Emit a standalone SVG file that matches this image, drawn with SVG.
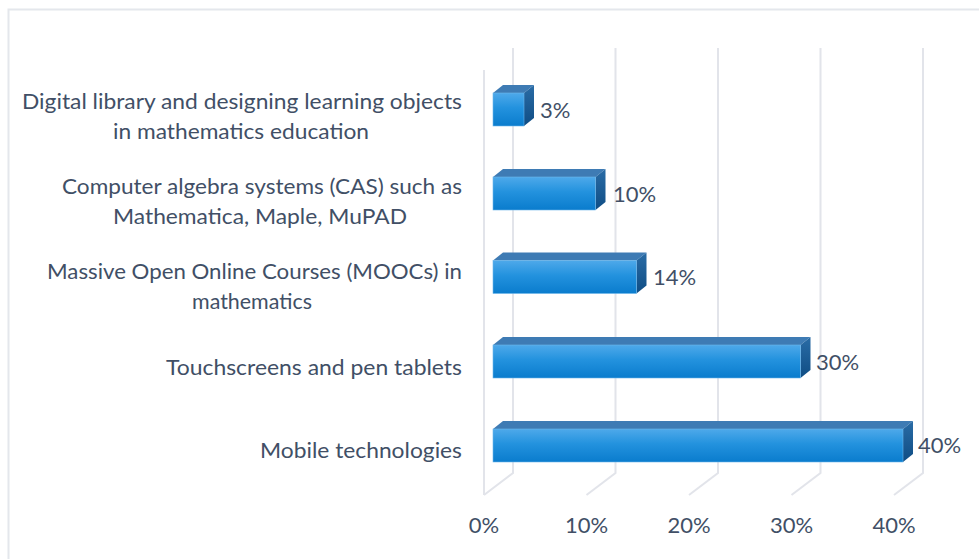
<svg xmlns="http://www.w3.org/2000/svg" width="979" height="559" viewBox="0 0 979 559">
  <defs>
    <linearGradient id="gFront" x1="0" y1="0" x2="0" y2="1">
      <stop offset="0" stop-color="#4ea9ea"/>
      <stop offset="0.45" stop-color="#2392de"/>
      <stop offset="1" stop-color="#0a7ccd"/>
    </linearGradient>
    <linearGradient id="gSide" x1="0" y1="0" x2="0" y2="1">
      <stop offset="0" stop-color="#2a6ca6"/>
      <stop offset="1" stop-color="#0f4d84"/>
    </linearGradient>
    <style>
      .grid { stroke: #e2e4ea; stroke-width: 2; fill: none; }
      .front { fill: url(#gFront); stroke: #6bb6ec; stroke-width: 0.6; }
      .top { fill: #3e7bb4; }
      .side { fill: url(#gSide); }
      .t { font-family: Lato, "Open Sans", "Liberation Sans", sans-serif; font-size: 22px; fill: #414f66; }
      .ax { text-anchor: middle; }
    </style>
  </defs>
  <rect x="0" y="0" width="979" height="559" fill="#ffffff"/>
  <path d="M8.5 559 V9.5 H979" fill="none" stroke="#e4e7ec" stroke-width="2"/>

  <g id="gridlines">
    <path class="grid" d="M513 48 V473 L484 495"/>
    <path class="grid" d="M615.5 48 V473 L586.5 495"/>
    <path class="grid" d="M718 48 V473 L689 495"/>
    <path class="grid" d="M820.5 48 V473 L791.5 495"/>
    <path class="grid" d="M923 48 V473 L894 495"/>
    <path class="grid" d="M484 70 V495"/>
  </g>

  <g id="axis-labels">
    <text class="t ax" x="484" y="533">0%</text>
    <text class="t ax" x="586.5" y="533">10%</text>
    <text class="t ax" x="689" y="533">20%</text>
    <text class="t ax" x="791.5" y="533">30%</text>
    <text class="t ax" x="894" y="533">40%</text>
  </g>

  <g id="bar-digital-library">
    <polygon class="top" points="493,93 503,85 534,85 524,93"/>
    <polygon class="side" points="524,93 534,85 534,118 524,126"/>
    <rect class="front" x="493" y="93" width="31" height="33"/>
    <text class="t" x="540" y="118">3%</text>
    <text class="t" x="22" y="109" textLength="440" lengthAdjust="spacingAndGlyphs">Digital library and designing learning objects</text>
    <text class="t" x="113" y="139" textLength="256" lengthAdjust="spacingAndGlyphs">in mathematics education</text>
  </g>

  <g id="bar-cas">
    <polygon class="top" points="493,177 503,169 605.5,169 595.5,177"/>
    <polygon class="side" points="595.5,177 605.5,169 605.5,202 595.5,210"/>
    <rect class="front" x="493" y="177" width="102.5" height="33"/>
    <text class="t" x="613" y="202">10%</text>
    <text class="t" x="62" y="194" textLength="400" lengthAdjust="spacingAndGlyphs">Computer algebra systems (CAS) such as</text>
    <text class="t" x="113" y="224" textLength="294" lengthAdjust="spacingAndGlyphs">Mathematica, Maple, MuPAD</text>
  </g>

  <g id="bar-moocs">
    <polygon class="top" points="493,260.5 503,252.5 646.5,252.5 636.5,260.5"/>
    <polygon class="side" points="636.5,260.5 646.5,252.5 646.5,285.5 636.5,293.5"/>
    <rect class="front" x="493" y="260.5" width="143.5" height="33"/>
    <text class="t" x="653" y="285">14%</text>
    <text class="t" x="47" y="279" textLength="415" lengthAdjust="spacingAndGlyphs">Massive Open Online Courses (MOOCs) in</text>
    <text class="t" x="192" y="309" textLength="120" lengthAdjust="spacingAndGlyphs">mathematics</text>
  </g>

  <g id="bar-touchscreens">
    <polygon class="top" points="493,345 503,337 810.5,337 800.5,345"/>
    <polygon class="side" points="800.5,345 810.5,337 810.5,370 800.5,378"/>
    <rect class="front" x="493" y="345" width="307.5" height="33"/>
    <text class="t" x="816" y="370">30%</text>
    <text class="t" x="166" y="375" textLength="296" lengthAdjust="spacingAndGlyphs">Touchscreens and pen tablets</text>
  </g>

  <g id="bar-mobile">
    <polygon class="top" points="493,429 503,421 913,421 903,429"/>
    <polygon class="side" points="903,429 913,421 913,454 903,462"/>
    <rect class="front" x="493" y="429" width="410" height="33"/>
    <text class="t" x="918" y="453">40%</text>
    <text class="t" x="260" y="458" textLength="202" lengthAdjust="spacingAndGlyphs">Mobile technologies</text>
  </g>
</svg>
